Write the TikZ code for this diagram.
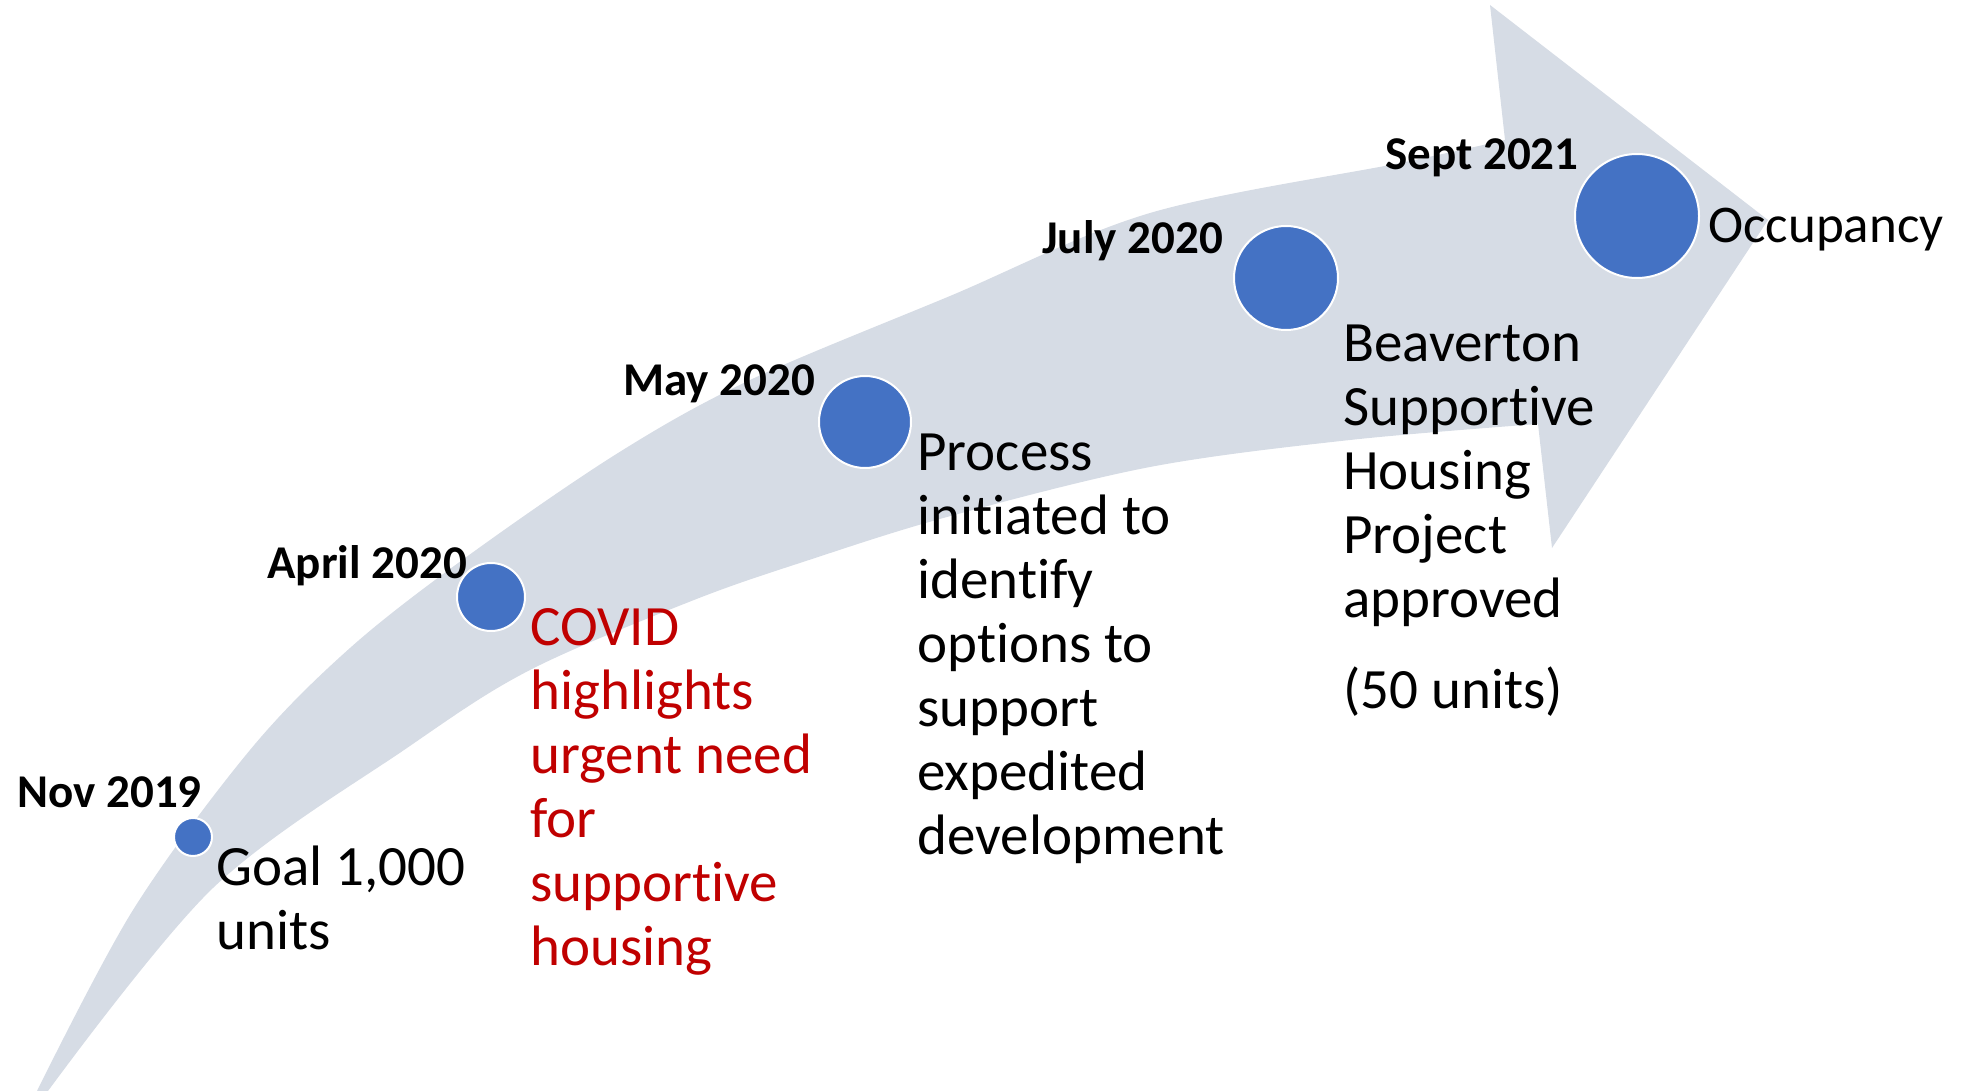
\documentclass[tikz,border=0pt]{standalone}
\usepackage{fontspec}
\setmainfont{Carlito}[RawFeature={-liga;-clig;-dlig;-calt;-rlig}]
\definecolor{bandc}{HTML}{D6DCE5}
\definecolor{dotc}{HTML}{4472C4}
\definecolor{covidc}{HTML}{C00000}
\newcommand\tiNoLig{t\kern0pt i}
\begin{document}
\begin{tikzpicture}[x=0.5pt,y=-0.5pt,
  dot/.style={circle, fill=dotc, draw=white, line width=1pt, inner sep=0pt},
  datelbl/.style={anchor=base west, inner sep=0pt, font=\fontsize{23.5}{28}\selectfont\bfseries},
  bodytxt/.style={anchor=base west, inner sep=0pt, align=left, font=\fontsize{28.5}{32}\selectfont},
]
\useasboundingbox (0,0) rectangle (1972,1091);
% curved arrow band
\fill[bandc] plot[smooth, tension=0.55] coordinates {(37,1091) (133,910) (250,750) (350,648) (465,558) (618,453) (750,380) (950,296) (1150,213) (1400,163) (1505,140)}
  -- (1490,5) -- (1768,220) -- (1552,548) -- (1538,424)
  -- plot[smooth, tension=0.55] coordinates {(1538,424) (1350,440) (1150,467) (947,517) (809,560) (694,600) (530,670) (407,748) (213,888) (48,1091)} -- cycle;

% milestones
\node[dot, minimum size=19pt] (d1) at (193,837) {};
\node[dot, minimum size=34pt] (d2) at (491,597) {};
\node[dot, minimum size=46pt] (d3) at (865,422) {};
\node[dot, minimum size=52pt] (d4) at (1286,278) {};
\node[dot, minimum size=62pt] (d5) at (1637,216) {};

% dates
\node[datelbl] (t1) at (17,807) {Nov 2019};
\node[datelbl] (t2) at (267,578) {April 2020};
\node[datelbl] (t3) at (623,395) {May 2020};
\node[datelbl] (t4) at (1042,254) {July 2020};
\node[datelbl] (t5) at (1385,170) {Sept 2021};

% descriptions (anchored at the baseline of their last line)
\node[bodytxt] (b1) at (216,949) {Goal 1,000\\units};
\node[bodytxt, text=covidc] (b2) at (530,965) {COVID\\highlights\\urgent need\\for\\suppor\tiNoLig ve\\housing};
\node[bodytxt] (b3) at (917,854) {Process\\ini\tiNoLig ated to\\identify\\options to\\support\\expedited\\development};
\node[bodytxt] (b4) at (1343,708) {Beaverton\\Suppor\tiNoLig ve\\Housing\\Project\\approved\\[13.5pt](50 units)};
\node[anchor=base west, inner sep=0pt, font=\fontsize{26.5}{32}\selectfont] (b5) at (1708,243) {Occupancy};
\end{tikzpicture}
\end{document}
